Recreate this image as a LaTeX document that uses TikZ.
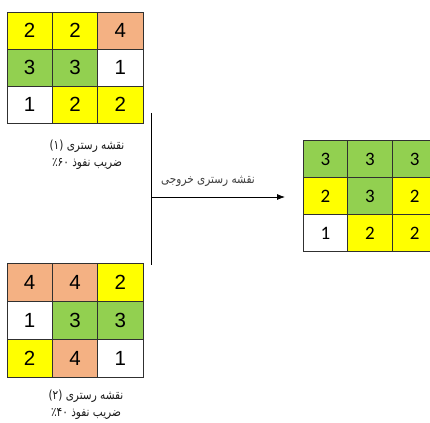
\documentclass[tikz,border=0pt]{standalone}
\usepackage{fontspec}
\usetikzlibrary{arrows.meta}
\TeXXeTstate=1
\newfontfamily\arabicfont[Script=Arabic]{DejaVu Sans}
\newfontfamily\digA{Liberation Sans}
\newfontfamily\digB{Carlito}
\definecolor{cyel}{HTML}{FFFF00}
\definecolor{cgrn}{HTML}{92D050}
\definecolor{corg}{HTML}{F4B183}
\definecolor{cline}{HTML}{303030}
\newcommand{\tallrtl}[1]{\scalebox{1}[1.2]{\beginR #1\endR}}
\tikzset{
  cellA/.style={draw=cline, line width=0.8pt, minimum width=45.3pt, minimum height=37pt, inner sep=0pt, outer sep=0pt, font=\digA\fontsize{20.5}{20}\selectfont},
  cellB/.style={draw=cline, line width=0.8pt, minimum width=44.7pt, minimum height=37pt, inner sep=0pt, outer sep=0pt, font=\digB\fontsize{19}{19}\selectfont},
  captext/.style={font=\arabicfont\fontsize{10.5}{12}\selectfont, inner sep=0pt, text=black!90},
  labtext/.style={font=\arabicfont\fontsize{10.5}{12}\selectfont, inner sep=0pt, text=black!75},
  conn/.style={line width=0.8pt, black},
}
\begin{document}
\begin{tikzpicture}[x=1pt,y=-1pt]
\useasboundingbox (0,0) rectangle (430,422);
% grid 1
\node[cellA,fill=cyel] (a11) at (29.6,30.5) {2};
\node[cellA,fill=cyel] (a12) at (75,30.5) {2};
\node[cellA,fill=corg] (a13) at (120.4,30.5) {4};
\node[cellA,fill=cgrn] (a21) at (29.6,67.5) {3};
\node[cellA,fill=cgrn] (a22) at (75,67.5) {3};
\node[cellA,fill=white] (a23) at (120.4,67.5) {1};
\node[cellA,fill=white] (a31) at (29.6,104.5) {1};
\node[cellA,fill=cyel] (a32) at (75,104.5) {2};
\node[cellA,fill=cyel] (a33) at (120.4,104.5) {2};
\node[captext] (c1a) at (87,146) {\tallrtl{نقشه رستری \beginL(۱)\endL}};
\node[captext] (c1b) at (87,164) {\tallrtl{ضریب نفوذ \beginL٪۶۰\endL}};
% grid 2
\node[cellA,fill=corg, minimum height=38pt] (b11) at (29.6,282) {4};
\node[cellA,fill=corg, minimum height=38pt] (b12) at (75,282) {4};
\node[cellA,fill=cyel, minimum height=38pt] (b13) at (120.4,282) {2};
\node[cellA,fill=white, minimum height=38pt] (b21) at (29.6,320) {1};
\node[cellA,fill=cgrn, minimum height=38pt] (b22) at (75,320) {3};
\node[cellA,fill=cgrn, minimum height=38pt] (b23) at (120.4,320) {3};
\node[cellA,fill=cyel, minimum height=38pt] (b31) at (29.6,358) {2};
\node[cellA,fill=corg, minimum height=38pt] (b32) at (75,358) {4};
\node[cellA,fill=white, minimum height=38pt] (b33) at (120.4,358) {1};
\node[captext] (c2a) at (86,396) {\tallrtl{نقشه رستری \beginL(۲)\endL}};
\node[captext] (c2b) at (86,414) {\tallrtl{ضریب نفوذ \beginL٪۴۰\endL}};
% output grid
\node[cellB,fill=cgrn] (o11) at (325.4,159) {3};
\node[cellB,fill=cgrn] (o12) at (370,159) {3};
\node[cellB,fill=cgrn] (o13) at (414.6,159) {3};
\node[cellB,fill=cyel] (o21) at (325.4,196) {2};
\node[cellB,fill=cgrn] (o22) at (370,196) {3};
\node[cellB,fill=cyel] (o23) at (414.6,196) {2};
\node[cellB,fill=white] (o31) at (325.4,233) {1};
\node[cellB,fill=cyel] (o32) at (370,233) {2};
\node[cellB,fill=cyel] (o33) at (414.6,233) {2};
% connectors
\coordinate (vtop) at (151,113);
\coordinate (vbot) at (151,265);
\coordinate (amid) at (151,197);
\coordinate (aend) at (285,197);
\draw[conn] (vtop) -- (vbot);
\draw[conn,-{Latex[length=8pt,width=6pt]}] (amid) -- (aend);
\node[labtext] (lab) at (208,181) {\tallrtl{نقشه رستری خروجی}};
\end{tikzpicture}
\end{document}
